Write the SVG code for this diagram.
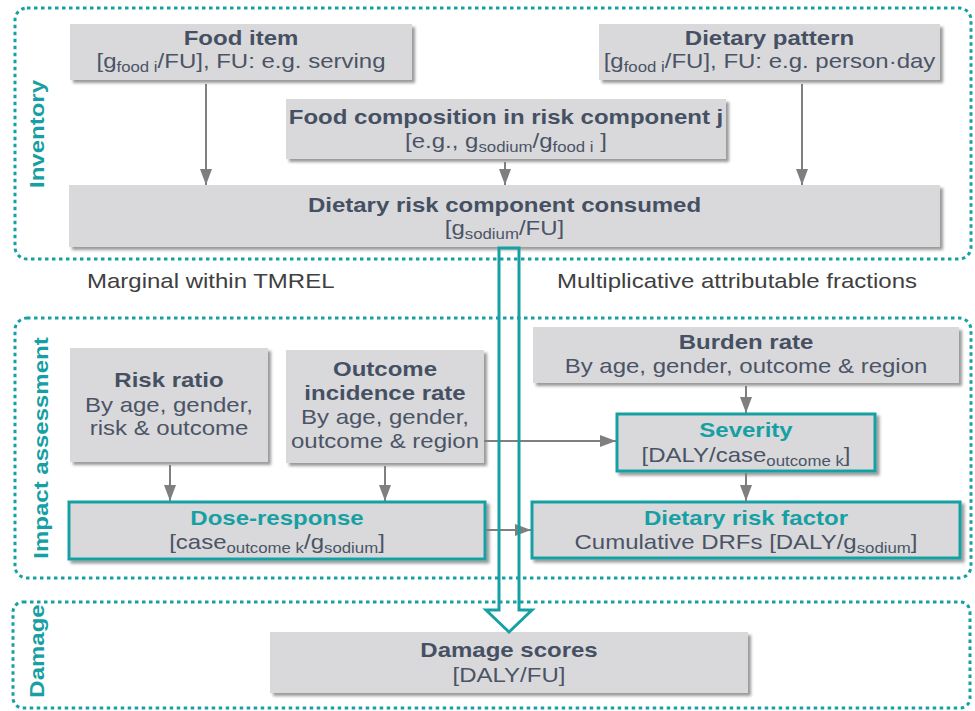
<svg xmlns="http://www.w3.org/2000/svg" width="975" height="711" viewBox="0 0 975 711">
<defs>
<filter id="sh" x="-5%" y="-10%" width="115%" height="130%">
<feDropShadow dx="3" dy="3" stdDeviation="1.6" flood-color="#000" flood-opacity="0.4"/>
</filter>
<marker id="ah" markerUnits="userSpaceOnUse" markerWidth="16" markerHeight="12" refX="16" refY="6" orient="auto">
<path d="M0,0 L16,6 L0,12 Z" fill="#7f7f7f"/>
</marker>
<style>
.box{fill:#d9d9db;filter:url(#sh)}
.tbox{fill:#d9d9db;stroke:#17a0a3;stroke-width:3;filter:url(#sh)}
.region{fill:none;stroke:#17a0a3;stroke-width:3;stroke-dasharray:3.5 3.5}
.t{font-family:"Liberation Sans",Arial,sans-serif;font-size:20px;fill:#4b5466;text-anchor:middle}
.b{font-weight:bold;fill:#465063}
.teal{fill:#17a0a3}
.lab{fill:#404040;text-anchor:start}
.side{font-weight:bold;fill:#17a0a3}
.sub{font-size:14px}
.conn{stroke:#7f7f7f;stroke-width:2;fill:none;marker-end:url(#ah)}
.hollow{fill:none;stroke:#17a0a3;stroke-width:3;stroke-linejoin:miter}
</style>
</defs>
<rect width="975" height="711" fill="#fff"/>

<g id="regions">
<rect class="region" x="15" y="8" width="956" height="251" rx="12"/>
<rect class="region" x="15" y="318" width="956" height="260" rx="12"/>
<rect class="region" x="13" y="602" width="957" height="106" rx="10"/>
<text class="t side" transform="translate(44,134) rotate(-90) scale(1.2,1)">Inventory</text>
<text class="t side" transform="translate(48,448) rotate(-90) scale(1.2,1)">Impact assessment</text>
<text class="t side" transform="translate(44,651) rotate(-90) scale(1.2,1)">Damage</text>
<text class="t lab" transform="translate(87,288) scale(1.2,1)">Marginal within TMREL</text>
<text class="t lab" transform="translate(557,288) scale(1.2,1)">Multiplicative attributable fractions</text>
</g>

<g id="food-item">
<rect class="box" x="70" y="24" width="342" height="56"/>
<text class="t b" transform="translate(241,45) scale(1.2,1)">Food item</text>
<text class="t" transform="translate(241,68) scale(1.2,1)">[g<tspan class="sub" dy="4">food i</tspan><tspan dy="-4">/FU], FU: e.g. serving</tspan></text>
</g>

<g id="dietary-pattern">
<rect class="box" x="599" y="24" width="341" height="56"/>
<text class="t b" transform="translate(769.5,45) scale(1.2,1)">Dietary pattern</text>
<text class="t" transform="translate(769.5,68) scale(1.2,1)">[g<tspan class="sub" dy="4">food i</tspan><tspan dy="-4">/FU], FU: e.g. person·day</tspan></text>
</g>

<g id="food-composition">
<rect class="box" x="286" y="99" width="440" height="60"/>
<text class="t b" transform="translate(506,124) scale(1.2,1)">Food composition in risk component j</text>
<text class="t" transform="translate(506,148) scale(1.2,1)">[e.g., g<tspan class="sub" dy="4">sodium</tspan><tspan dy="-4">/g</tspan><tspan class="sub" dy="4">food i</tspan><tspan dy="-4"> ]</tspan></text>
</g>

<g id="risk-consumed">
<rect class="box" x="69" y="185" width="871" height="62"/>
<text class="t b" transform="translate(504.5,212) scale(1.2,1)">Dietary risk component consumed</text>
<text class="t" transform="translate(504.5,235) scale(1.2,1)">[g<tspan class="sub" dy="4">sodium</tspan><tspan dy="-4">/FU]</tspan></text>
</g>

<g id="risk-ratio">
<rect class="box" x="70" y="348" width="198" height="114"/>
<text class="t b" transform="translate(169,387) scale(1.2,1)">Risk ratio</text>
<text class="t" transform="translate(169,412) scale(1.2,1)">By age, gender,</text>
<text class="t" transform="translate(169,435) scale(1.2,1)">risk &amp; outcome</text>
</g>

<g id="outcome-incidence">
<rect class="box" x="286" y="350" width="198" height="113"/>
<text class="t b" transform="translate(385,376) scale(1.2,1)">Outcome</text>
<text class="t b" transform="translate(385,400) scale(1.2,1)">incidence rate</text>
<text class="t" transform="translate(385,424) scale(1.2,1)">By age, gender,</text>
<text class="t" transform="translate(385,448) scale(1.2,1)">outcome &amp; region</text>
</g>

<g id="dose-response">
<rect class="tbox" x="69" y="502" width="416" height="57"/>
<text class="t b teal" transform="translate(277,525) scale(1.2,1)">Dose-response</text>
<text class="t" transform="translate(277,549) scale(1.2,1)">[case<tspan class="sub" dy="4">outcome k</tspan><tspan dy="-4">/g</tspan><tspan class="sub" dy="4">sodium</tspan><tspan dy="-4">]</tspan></text>
</g>

<g id="burden-rate">
<rect class="box" x="533" y="327" width="426" height="56"/>
<text class="t b" transform="translate(746,349) scale(1.2,1)">Burden rate</text>
<text class="t" transform="translate(746,373) scale(1.2,1)">By age, gender, outcome &amp; region</text>
</g>

<g id="severity">
<rect class="tbox" x="617" y="414" width="258" height="57"/>
<text class="t b teal" transform="translate(746,437) scale(1.2,1)">Severity</text>
<text class="t" transform="translate(746,462) scale(1.2,1)">[DALY/case<tspan class="sub" dy="4">outcome k</tspan><tspan dy="-4">]</tspan></text>
</g>

<g id="dietary-risk-factor">
<rect class="tbox" x="532" y="502" width="428" height="56"/>
<text class="t b teal" transform="translate(746,525) scale(1.2,1)">Dietary risk factor</text>
<text class="t" transform="translate(746,549) scale(1.2,1)">Cumulative DRFs [DALY/g<tspan class="sub" dy="4">sodium</tspan><tspan dy="-4">]</tspan></text>
</g>

<g id="damage-scores">
<rect class="box" x="270" y="632" width="478" height="61"/>
<text class="t b" transform="translate(509,657) scale(1.2,1)">Damage scores</text>
<text class="t" transform="translate(509,682) scale(1.2,1)">[DALY/FU]</text>
</g>

<g id="connectors">
<line class="conn" x1="206" y1="84" x2="206" y2="185"/>
<line class="conn" x1="505" y1="162" x2="505" y2="185"/>
<line class="conn" x1="802" y1="84" x2="802" y2="185"/>
<line class="conn" x1="170" y1="465" x2="170" y2="501"/>
<line class="conn" x1="385" y1="466" x2="385" y2="501"/>
<line class="conn" x1="484" y1="441" x2="616" y2="441"/>
<line class="conn" x1="486" y1="530" x2="531" y2="530"/>
<line class="conn" x1="746" y1="386" x2="746" y2="413"/>
<line class="conn" x1="746" y1="473" x2="746" y2="501"/>
<path class="hollow" d="M499,248 L519,248 L519,610 L532,610 L509,632 L486,610 L499,610 Z"/>
</g>
</svg>
